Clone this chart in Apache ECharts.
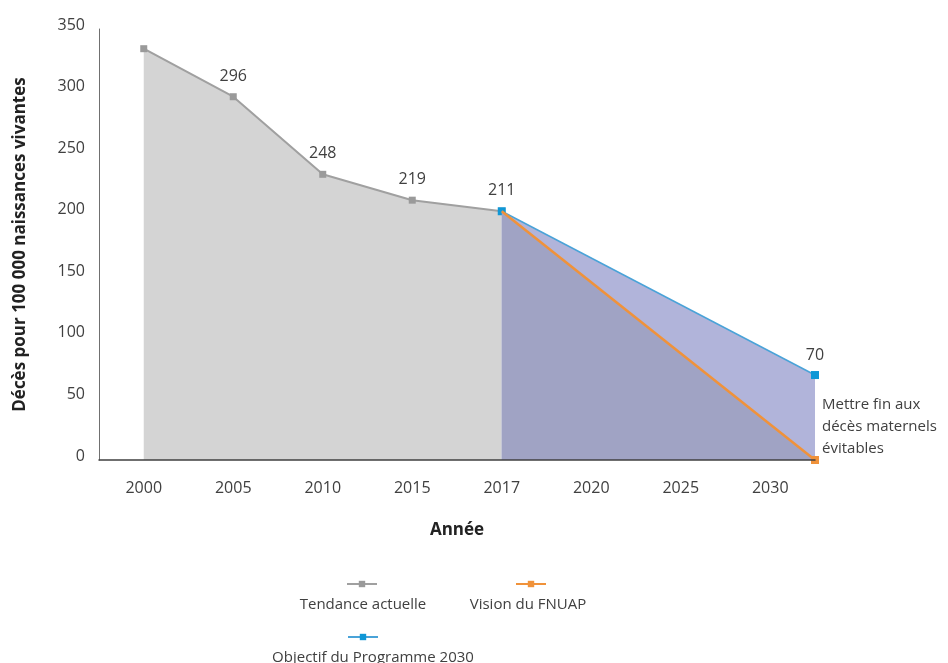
<!DOCTYPE html>
<html>
<head>
<meta charset="utf-8">
<script src="https://cdn.jsdelivr.net/npm/echarts@6/dist/echarts.min.js"></script>
<style>
  html, body { margin: 0; padding: 0; background: #fff; }
  #chart { width: 948px; height: 663px; }
</style>
</head>
<body>
<div id="chart"></div>
<script>
// categories on the x axis
const years = ['2000', '2005', '2010', '2015', '2017', '2020', '2025', '2030'];
// y-axis ticks
const yMin = 0;
const yMax = 350;
const yStep = 50;

// Tendance actuelle (2000 -> 2017)
const trendYears = ['2000', '2005', '2010', '2015', '2017'];
const trendValues = [334, 295, 232, 211, 202];
const trendLabels = ['', '296', '248', '219', '211'];

// Objectif du Programme 2030 (2017 -> end)
const goalValues = [202, 69];
const goalLabels = ['', '70'];

// Vision du FNUAP (2017 -> end)
const visionValues = [202, 0];

const endNote = 'Mettre fin aux\ndécès maternels\névitables';

const FONT = 'Open Sans';
const TXT = '#404040';

// x position on the hidden value axis: centre of a category band, or the far edge
const xOf = y => years.indexOf(y) + 0.5;
const xEnd = years.length;

const trendData = trendValues.map((v, i) => [xOf(trendYears[i]), v]);
const goalData = [[xOf('2017'), goalValues[0]], [xEnd, goalValues[1]]];
const visionData = [[xOf('2017'), visionValues[0]], [xEnd, visionValues[1]]];

// legend text sits centred below its icon
const ctx = document.createElement('canvas').getContext('2d');
ctx.font = '15px "' + FONT + '"';
const legendItem = (name, cx, cy, dx) => {
  const w = ctx.measureText(name).width;
  return {
    data: [name],
    left: cx - w / 2 + dx,
    top: cy - 42,
    padding: 0,
    itemWidth: 30,
    itemHeight: 8,
    formatter: n => '\n' + n,
    textStyle: {
      fontFamily: FONT,
      fontSize: 15,
      lineHeight: 42,
      color: TXT,
      padding: [0, 0, 0, -20 - w / 2 + dx],
    },
  };
};

const myChart = echarts.init(document.getElementById('chart'));

myChart.setOption({
  animation: false,
  textStyle: { fontFamily: FONT },
  grid: { left: 99, right: 133, top: 29, bottom: 203 },
  legend: [
    legendItem('Tendance actuelle', 362, 584, 1),
    legendItem('Vision du FNUAP', 531, 584, -3),
    legendItem('Objectif du Programme 2030', 363, 637, 10),
  ],
  xAxis: [
    {
      type: 'category',
      data: years,
      boundaryGap: true,
      z: 10,
      name: 'Année',
      nameLocation: 'middle',
      nameGap: 62,
      nameTextStyle: { fontFamily: FONT, fontSize: 17, fontWeight: 'bold', color: '#222' },
      axisLine: { lineStyle: { color: '#404040', width: 1.5 } },
      axisTick: { inside: true, length: 10, lineStyle: { color: '#404040' } },
      axisLabel: { fontFamily: FONT, fontSize: 16, color: TXT, margin: 20 },
    },
    {
      type: 'value',
      min: 0,
      max: years.length,
      show: false,
    },
  ],
  yAxis: {
    type: 'value',
    min: yMin,
    max: yMax,
    interval: yStep,
    name: 'Décès pour 100 000 naissances vivantes',
    nameLocation: 'middle',
    nameGap: 70,
    nameTextStyle: { fontFamily: FONT, fontSize: 17, fontWeight: 'bold', color: '#222' },
    axisLine: { show: true, lineStyle: { color: '#707070' } },
    axisTick: { show: false },
    splitLine: { show: false },
    axisLabel: {
      fontFamily: FONT,
      fontSize: 16,
      color: TXT,
      margin: 14,
      verticalAlign: 'bottom',
      lineHeight: 8,
    },
  },
  series: [
    {
      name: 'Tendance actuelle',
      type: 'line',
      xAxisIndex: 1,
      data: trendData,
      symbol: 'rect',
      symbolSize: 7,
      itemStyle: { color: '#9a9a9a' },
      lineStyle: { color: '#a0a0a0', width: 2 },
      areaStyle: { color: '#d4d4d4', opacity: 1 },
      label: {
        show: true,
        position: 'top',
        distance: 9,
        fontFamily: FONT,
        fontSize: 16,
        color: TXT,
        formatter: p => trendLabels[p.dataIndex],
      },
    },
    {
      name: 'Objectif du Programme 2030',
      type: 'line',
      xAxisIndex: 1,
      data: goalData,
      symbol: 'rect',
      symbolSize: 8,
      itemStyle: { color: '#0f97d6' },
      lineStyle: { color: '#4aa3d8', width: 1.5 },
      areaStyle: { color: '#b1b4da', opacity: 1 },
      z: 3,
      label: {
        show: true,
        position: 'top',
        distance: 8,
        fontFamily: FONT,
        fontSize: 16,
        color: TXT,
        formatter: p => goalLabels[p.dataIndex],
      },
    },
    {
      name: 'Vision du FNUAP',
      type: 'line',
      xAxisIndex: 1,
      data: visionData,
      symbol: 'rect',
      symbolSize: (v, p) => (p.dataIndex === 0 ? 0 : 8),
      itemStyle: { color: '#f0923a' },
      lineStyle: { color: '#f0923a', width: 2.5 },
      areaStyle: { color: '#a0a3c4', opacity: 1 },
      z: 4,
      label: {
        show: true,
        position: 'right',
        distance: 3,
        offset: [0, -33],
        fontFamily: FONT,
        fontSize: 15,
        lineHeight: 22,
        color: TXT,
        formatter: p => (p.dataIndex === visionData.length - 1 ? endNote : ''),
      },
    },
  ],
});
</script>
</body>
</html>
